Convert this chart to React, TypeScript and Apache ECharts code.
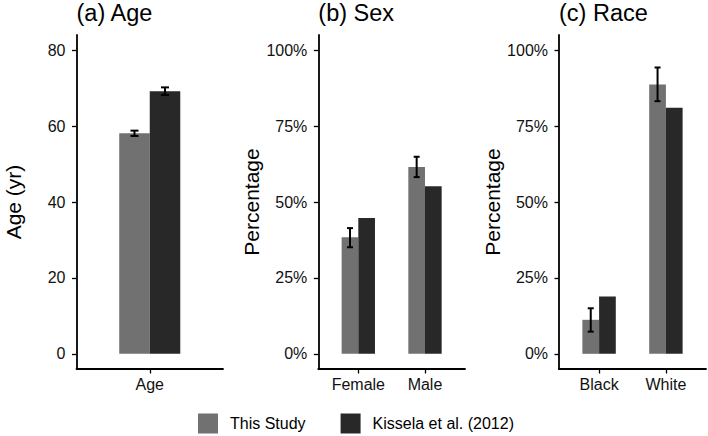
import React, { useEffect, useRef } from "react";
import * as echarts from "echarts";

// ---- data ----
const ageCategories = ["Age"];
const ageThisStudy = [58.1];
const ageThisStudyLow = [57.4];
const ageThisStudyHigh = [58.8];
const ageKissela = [69.2];
const ageKisselaLow = [68.2];
const ageKisselaHigh = [70.2];

const sexCategories = ["Female", "Male"];
const sexThisStudy = [38.4, 61.5];
const sexThisStudyLow = [35.1, 58.2];
const sexThisStudyHigh = [41.4, 64.9];
const sexKissela = [44.7, 55.2];

const raceCategories = ["Black", "White"];
const raceThisStudy = [11.2, 88.7];
const raceThisStudyLow = [7.3, 83.2];
const raceThisStudyHigh = [15.0, 94.3];
const raceKissela = [18.9, 81.0];

const ageTicks = [0, 20, 40, 60, 80];
const pctTicks = [0, 25, 50, 75, 100];

const panelTitles = ["(a) Age", "(b) Sex", "(c) Race"];
const yAxisNames = ["Age (yr)", "Percentage", "Percentage"];
const seriesNames = ["This Study", "Kissela et al. (2012)"];

const GREY = "#717171";
const DARK = "#282828";
const FONT = "'Liberation Sans', Arial, Helvetica, sans-serif";

const HALF = 0.25; // bar width (category units)

function barRender(offset: number, color: string) {
  return (params: any, api: any) => {
    const x = api.value(0);
    const v = api.value(1);
    const p0 = api.coord([x + offset, 0]);
    const p1 = api.coord([x + offset + HALF, v]);
    return {
      type: "rect",
      shape: { x: p0[0], y: p1[1], width: p1[0] - p0[0], height: p0[1] - p1[1] },
      style: { fill: color },
    };
  };
}

function errRender(offset: number, capHalf: number) {
  return (params: any, api: any) => {
    const x = api.value(0) + offset;
    const lo = api.coord([x, api.value(1)]);
    const hi = api.coord([x, api.value(2)]);
    const st = { stroke: "#000", lineWidth: 2 };
    return {
      type: "group",
      children: [
        { type: "line", shape: { x1: lo[0], y1: lo[1], x2: hi[0], y2: hi[1] }, style: st },
        { type: "line", shape: { x1: lo[0] - capHalf, y1: lo[1], x2: lo[0] + capHalf, y2: lo[1] }, style: st },
        { type: "line", shape: { x1: hi[0] - capHalf, y1: hi[1], x2: hi[0] + capHalf, y2: hi[1] }, style: st },
      ],
    };
  };
}

export default function App() {
  const ref = useRef<HTMLDivElement>(null);

  useEffect(() => {
    document.body.style.margin = "0";
    if (!ref.current) return;
    const chart = echarts.init(ref.current, null, { renderer: "svg" });

    const gridLefts = [76.5, 318.3, 559];
    const gridWidths = [146.5, 146.7, 147];
    const cats = [ageCategories, sexCategories, raceCategories];
    const yTicks = [ageTicks, pctTicks, pctTicks];
    const yMin = [-4, -5, -5];
    const yMax = [84, 105, 105];

    const grids = gridLefts.map((l, i) => ({
      left: l,
      top: 35,
      width: gridWidths[i],
      height: 334,
      containLabel: false,
    }));

    const xAxes = cats.map((c, i) => {
      const vals = c.map((_, k) => k + 1);
      return {
        type: "value",
        gridIndex: i,
        min: 0.4,
        max: c.length + 0.6,
        splitLine: { show: false },
        axisLine: { onZero: false, lineStyle: { color: "#000", width: 1.8 } },
        axisTick: { show: true, customValues: vals, length: 4.5, lineStyle: { color: "#000", width: 1.3 } },
        axisLabel: {
          customValues: vals,
          formatter: (v: number) => c[Math.round(v) - 1] ?? "",
          fontSize: 16,
          color: "#111",
          fontFamily: FONT,
          margin: 7,
        },
      };
    });

    const yAxes = yTicks.map((t, i) => ({
      type: "value",
      gridIndex: i,
      min: yMin[i],
      max: yMax[i],
      name: yAxisNames[i],
      nameLocation: "middle",
      nameGap: i === 0 ? 53 : 55,
      nameTextStyle: { fontSize: 21, color: "#000", fontFamily: FONT },
      splitLine: { show: false },
      axisLine: { onZero: false, lineStyle: { color: "#000", width: 1.8 } },
      axisTick: { show: true, customValues: t, length: 4.5, lineStyle: { color: "#000", width: 1.3 } },
      axisLabel: {
        customValues: t,
        formatter: (v: number) => (i === 0 ? String(v) : v + "%"),
        fontSize: 16,
        color: "#111",
        fontFamily: FONT,
        margin: 11,
      },
    }));

    const toXY = (vals: number[]) => vals.map((v, k) => [k + 1, v]);
    const toErr = (lo: number[], hi: number[]) => lo.map((v, k) => [k + 1, v, hi[k]]);

    const barSeries = (i: number, vals: number[], which: number) => ({
      type: "custom",
      name: seriesNames[which],
      xAxisIndex: i,
      yAxisIndex: i,
      itemStyle: { color: which === 0 ? GREY : DARK },
      renderItem: barRender(which === 0 ? -HALF : 0, which === 0 ? GREY : DARK),
      encode: { x: 0, y: 1 },
      data: toXY(vals),
      z: 2,
    });

    const errSeries = (i: number, lo: number[], hi: number[], which: number, cap: number) => ({
      type: "custom",
      name: "err" + i + "_" + which,
      xAxisIndex: i,
      yAxisIndex: i,
      renderItem: errRender(which === 0 ? -HALF / 2 : HALF / 2, cap),
      encode: { x: 0, y: [1, 2] },
      data: toErr(lo, hi),
      z: 3,
    });

    const option: any = {
      animation: false,
      textStyle: { fontFamily: FONT },
      title: panelTitles.map((t, i) => ({
        text: t,
        left: gridLefts[i],
        top: 1,
        padding: 0,
        textStyle: { fontSize: 23.5, fontWeight: "normal", color: "#000", fontFamily: FONT },
      })),
      grid: grids,
      xAxis: xAxes,
      yAxis: yAxes,
      legend: {
        data: seriesNames,
        left: 198,
        top: 413.5,
        padding: 0,
        icon: "rect",
        itemWidth: 20,
        itemHeight: 20,
        itemGap: 35,
        selectedMode: false,
        textStyle: { fontSize: 16, color: "#000", fontFamily: FONT, padding: [0, 0, 0, 7] },
      },
      series: [
        barSeries(0, ageThisStudy, 0),
        barSeries(0, ageKissela, 1),
        errSeries(0, ageThisStudyLow, ageThisStudyHigh, 0, 4),
        errSeries(0, ageKisselaLow, ageKisselaHigh, 1, 4),
        barSeries(1, sexThisStudy, 0),
        barSeries(1, sexKissela, 1),
        errSeries(1, sexThisStudyLow, sexThisStudyHigh, 0, 3),
        barSeries(2, raceThisStudy, 0),
        barSeries(2, raceKissela, 1),
        errSeries(2, raceThisStudyLow, raceThisStudyHigh, 0, 3),
      ],
    };

    chart.setOption(option);
    return () => chart.dispose();
  }, []);

  return <div ref={ref} style={{ width: 708, height: 436 }} />;
}
